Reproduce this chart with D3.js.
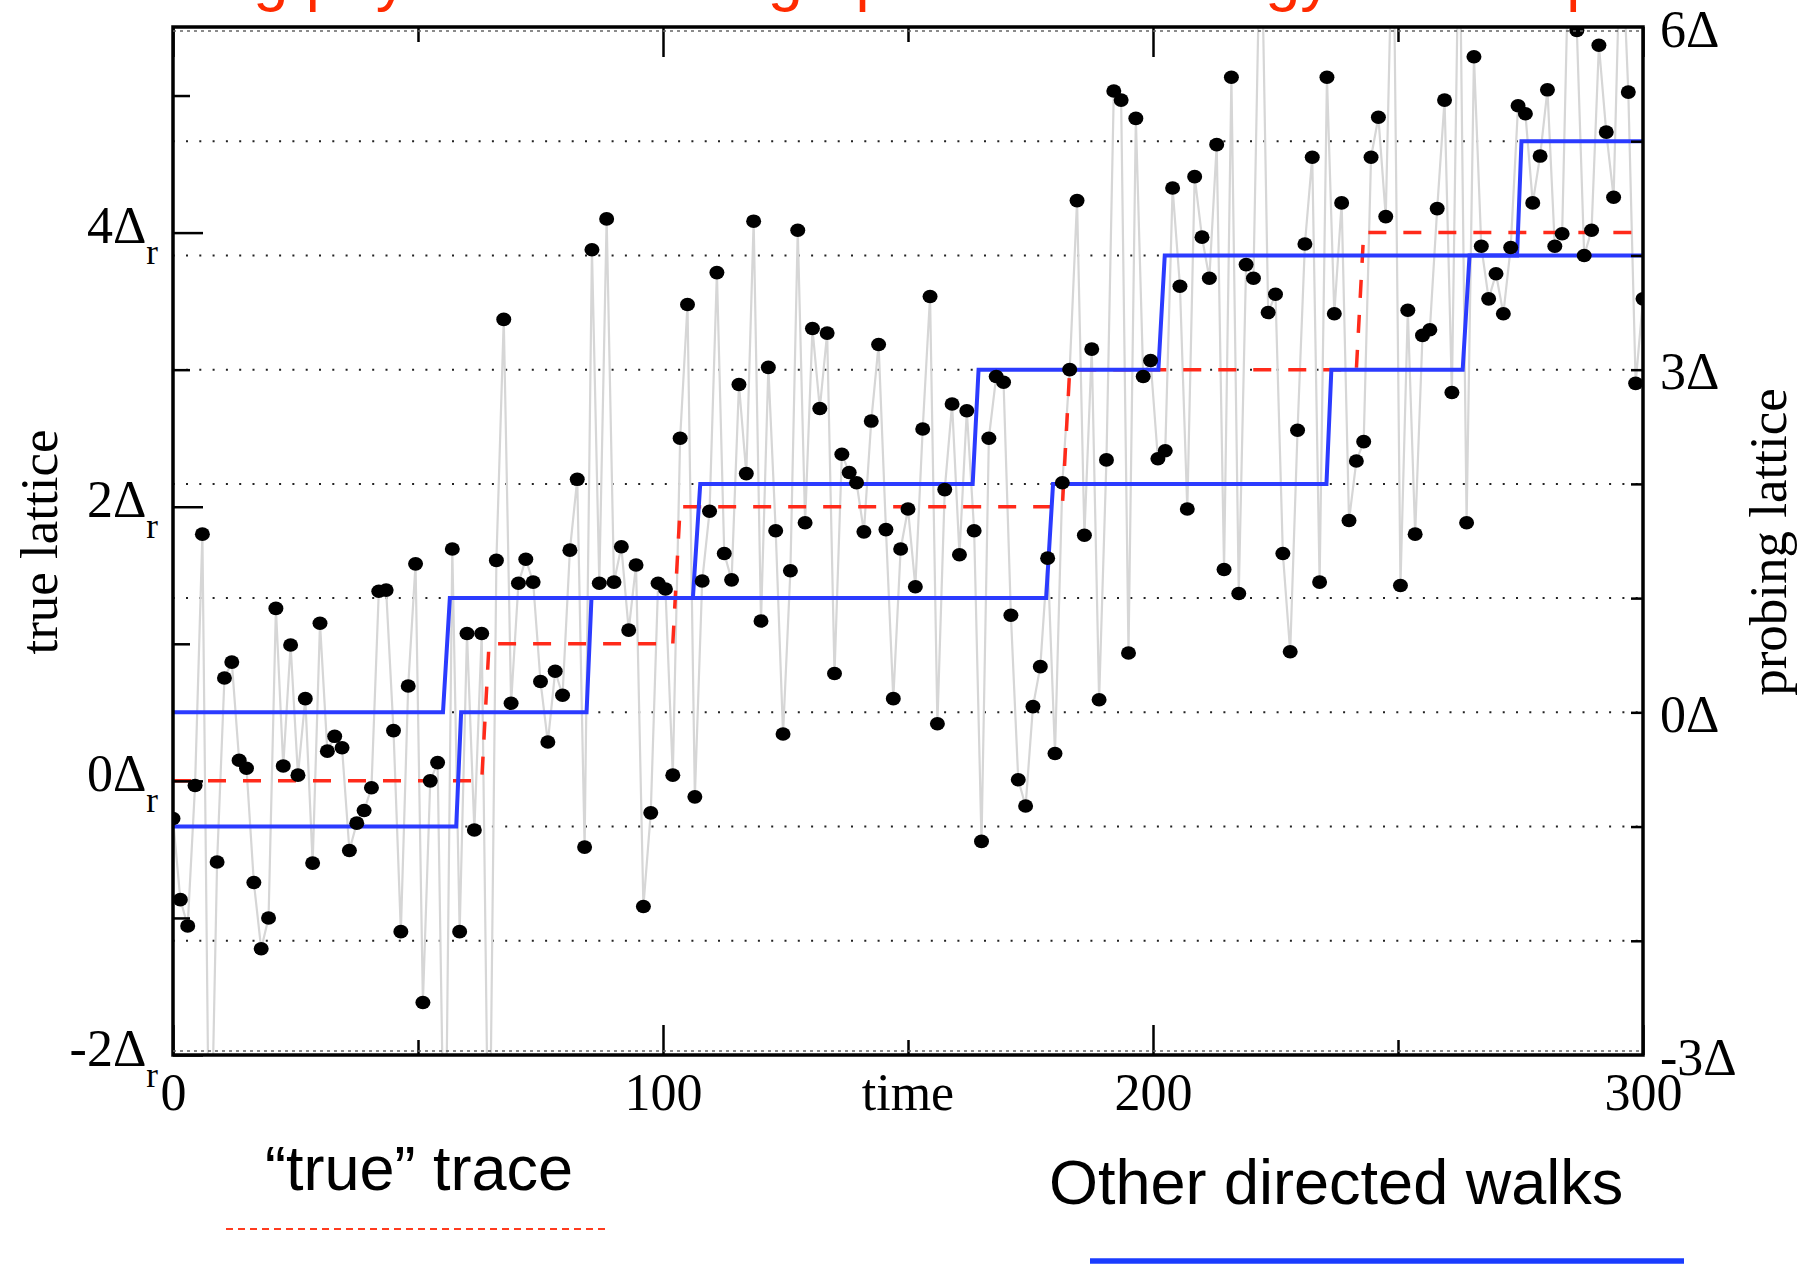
<!DOCTYPE html>
<html>
<head>
<meta charset="utf-8">
<script src="https://cdn.jsdelivr.net/npm/d3@7"></script>
<style>
  body { margin: 0; background: #fff; }
  svg { display: block; }
  .serif { font-family: "Liberation Serif", "Times New Roman", serif; }
  .sans  { font-family: "Liberation Sans", Arial, sans-serif; }
</style>
</head>
<body>
<div id="chart"></div>
<script>
// ---------- Data ----------
const timeStep = 1.5;   // one sample every 1.5 time units

// observed signal, in units of the probing lattice Δ
const observed = [
  -0.93, -1.64, -1.87, -0.64, 1.56, -4.5, -1.31, 0.30, 0.44, -0.42,
  -0.49, -1.49, -2.07, -1.80, 0.91, -0.47, 0.59, -0.55, 0.12, -1.32,
  0.78, -0.34, -0.21, -0.31, -1.21, -0.97, -0.86, -0.66, 1.06, 1.07,
  -0.16, -1.92, 0.23, 1.30, -2.54, -0.60, -0.44, -4.5, 1.43, -1.92,
  0.69, -1.03, 0.69, -4.5, 1.33, 3.44, 0.08, 1.13, 1.34, 1.14,
  0.27, -0.26, 0.36, 0.15, 1.42, 2.04, -1.18, 4.05, 1.13, 4.32,
  1.14, 1.45, 0.72, 1.29, -1.70, -0.88, 1.13, 1.08, -0.55, 2.40,
  3.57, -0.74, 1.15, 1.76, 3.85, 1.39, 1.16, 2.87, 2.09, 4.30,
  0.80, 3.02, 1.59, -0.19, 1.24, 4.22, 1.66, 3.36, 2.66, 3.32,
  0.34, 2.26, 2.10, 2.01, 1.58, 2.55, 3.22, 1.60, 0.12, 1.43,
  1.78, 1.10, 2.48, 3.64, -0.10, 1.95, 2.70, 1.38, 2.64, 1.59,
  -1.13, 2.40, 2.94, 2.89, 0.85, -0.59, -0.82, 0.05, 0.40, 1.35,
  -0.36, 2.01, 3.00, 4.48, 1.55, 3.18, 0.11, 2.21, 5.44, 5.36,
  0.52, 5.20, 2.94, 3.08, 2.22, 2.29, 4.59, 3.73, 1.78, 4.69,
  4.16, 3.80, 4.97, 1.25, 5.56, 1.04, 3.92, 3.80, 7.2, 3.50,
  3.66, 1.39, 0.53, 2.47, 4.10, 4.86, 1.14, 5.56, 3.49, 4.46,
  1.68, 2.20, 2.37, 4.86, 5.21, 4.34, 7.2, 1.11, 3.52, 1.56,
  3.30, 3.35, 4.41, 5.36, 2.80, 7.2, 1.66, 5.74, 4.08, 3.62,
  3.84, 3.49, 4.07, 5.31, 5.24, 4.46, 4.87, 5.45, 4.08, 4.19,
  7.0, 5.97, 4.00, 4.22, 5.84, 5.08, 4.51, 7.0, 5.43, 2.88,
  3.62
];

// "true" trace, [time, level in Δr]
const trueTrace = [
  [0, 0], [63, 0], [64.5, 1], [102, 1], [103.5, 2],
  [181.5, 2], [183, 3], [241.5, 3], [243, 4], [300, 4]
];

// other directed walks, [time, level in Δ]
const walkUpper = [
  [0, 0], [55.1, 0], [56.5, 1], [106.1, 1], [107.6, 2], [163.2, 2], [164.4, 3],
  [201.1, 3], [202.4, 4], [274.3, 4], [275.2, 5], [300, 5]
];
const walkLower = [
  [0, -1], [57.8, -1], [58.8, 0], [84.4, 0], [85.4, 1], [178.2, 1], [179.6, 2],
  [235.4, 2], [236.4, 3], [263.2, 3], [264.6, 4], [300, 4]
];

const xTicks      = [0, 100, 200, 300];
const xMinorTicks = [50, 150, 250];
const leftTicks   = [-2, 0, 2, 4];
const leftMinor   = [-1, 1, 3, 5];
const rightTicks  = [-3, 0, 3, 6];
const gridLevels  = [-2, -1, 0, 1, 2, 3, 4, 5];

const titleText = "Learning physics - climbing up the free energy landscape";

// ---------- Layout ----------
const width = 1809, height = 1266;
const plot = { left: 173, right: 1643, top: 27, bottom: 1055 };

const x  = d3.scaleLinear().domain([0, 300]).range([plot.left, plot.right]);
const yP = d3.scaleLinear().domain([-3, 6]).range([plot.bottom, plot.top]);     // probing lattice
const yR = d3.scaleLinear().domain([-2, 5.5]).range([plot.bottom, plot.top]);   // true lattice

const svg = d3.select("#chart").append("svg")
  .attr("width", width)
  .attr("height", height);

svg.append("defs").append("clipPath").attr("id", "plot-clip")
  .append("rect")
  .attr("x", plot.left).attr("y", plot.top)
  .attr("width", plot.right - plot.left)
  .attr("height", plot.bottom - plot.top);

// ---------- Title (mostly above the page edge) ----------
svg.append("text")
  .attr("class", "sans")
  .attr("x", 43)
  .attr("y", -1)
  .attr("font-size", 63)
  .attr("fill", "#ff2a00")
  .text(titleText);

// ---------- Grid ----------
svg.append("g")
  .selectAll("line")
  .data(gridLevels)
  .join("line")
  .attr("x1", plot.left).attr("x2", plot.right)
  .attr("y1", d => yP(d)).attr("y2", d => yP(d))
  .attr("stroke", "#222")
  .attr("stroke-width", 2)
  .attr("stroke-dasharray", "2,11.3")
  .attr("stroke-dashoffset", -13);

const plotArea = svg.append("g").attr("clip-path", "url(#plot-clip)");

// ---------- Observed signal ----------
const sampleLine = d3.line()
  .x((d, i) => x(i * timeStep))
  .y(d => yP(d));

plotArea.append("path")
  .datum(observed)
  .attr("d", sampleLine)
  .attr("fill", "none")
  .attr("stroke", "#d6d6d6")
  .attr("stroke-width", 2.2);

// ---------- True trace ----------
plotArea.append("path")
  .datum(trueTrace)
  .attr("d", d3.line().x(d => x(d[0])).y(d => yR(d[1])))
  .attr("fill", "none")
  .attr("stroke", "#ff2a1a")
  .attr("stroke-width", 3.5)
  .attr("stroke-dasharray", "18,17");

// ---------- Directed walks ----------
const walkLine = d3.line().x(d => x(d[0])).y(d => yP(d[1]));
plotArea.selectAll(".walk")
  .data([walkUpper, walkLower])
  .join("path")
  .attr("class", "walk")
  .attr("d", walkLine)
  .attr("fill", "none")
  .attr("stroke", "#2b3bff")
  .attr("stroke-width", 4);

// ---------- Dots ----------
plotArea.append("g")
  .selectAll("ellipse")
  .data(observed)
  .join("ellipse")
  .attr("cx", (d, i) => x(i * timeStep))
  .attr("cy", d => yP(d))
  .attr("rx", 7.5)
  .attr("ry", 6.8)
  .attr("fill", "#000");

// ---------- Axes ----------
function styleAxis(g) {
  g.select(".domain").remove();
  g.selectAll(".tick line").attr("stroke", "#000").attr("stroke-width", 2.5);
  g.attr("font-family", null).attr("font-size", null);
  g.selectAll(".tick text")
    .attr("class", "serif")
    .attr("font-size", 52)
    .attr("fill", "#000");
}

// bottom
svg.append("g")
  .attr("transform", `translate(0,${plot.bottom})`)
  .call(d3.axisBottom(x).tickValues(xTicks).tickSize(-30).tickPadding(18).tickFormat(d3.format("d")))
  .call(styleAxis);
svg.append("g")
  .attr("transform", `translate(0,${plot.bottom})`)
  .call(d3.axisBottom(x).tickValues(xMinorTicks).tickSize(-15).tickFormat(""))
  .call(styleAxis);

// top
svg.append("g")
  .attr("transform", `translate(0,${plot.top})`)
  .call(d3.axisTop(x).tickValues(xTicks).tickSize(-30).tickFormat(""))
  .call(styleAxis);
svg.append("g")
  .attr("transform", `translate(0,${plot.top})`)
  .call(d3.axisTop(x).tickValues(xMinorTicks).tickSize(-15).tickFormat(""))
  .call(styleAxis);

// left (true lattice)
const leftAxis = svg.append("g")
  .attr("transform", `translate(${plot.left},0)`)
  .call(d3.axisLeft(yR).tickValues(leftTicks).tickSize(-30).tickPadding(15).tickFormat(""))
  .call(styleAxis);
leftAxis.selectAll(".tick text")
  .attr("dy", 10)
  .each(function (d) {
    const t = d3.select(this);
    t.append("tspan").text(`${d}Δ`);
    t.append("tspan").attr("font-size", 35).attr("dy", 21).text("r");
  });
svg.append("g")
  .attr("transform", `translate(${plot.left},0)`)
  .call(d3.axisLeft(yR).tickValues(leftMinor).tickSize(-17).tickFormat(""))
  .call(styleAxis);

// right (probing lattice)
svg.append("g")
  .attr("transform", `translate(${plot.right},0)`)
  .call(d3.axisRight(yP).tickValues(gridLevels).tickSize(-12).tickFormat(""))
  .call(styleAxis);
svg.append("g")
  .attr("transform", `translate(${plot.right},0)`)
  .call(d3.axisRight(yP).tickValues(rightTicks).tickSize(0).tickPadding(17).tickFormat(d => `${d}Δ`))
  .call(styleAxis)
  .call(g => g.selectAll(".tick text").attr("dy", 19));

// frame
svg.append("rect")
  .attr("x", plot.left).attr("y", plot.top)
  .attr("width", plot.right - plot.left)
  .attr("height", plot.bottom - plot.top)
  .attr("fill", "none")
  .attr("stroke", "#000")
  .attr("stroke-width", 3.5);

svg.append("g")
  .selectAll("line")
  .data([plot.top + 4, plot.bottom - 4])
  .join("line")
  .attr("x1", plot.left).attr("x2", plot.right)
  .attr("y1", d => d).attr("y2", d => d)
  .attr("stroke", "#666")
  .attr("stroke-width", 1.5)
  .attr("stroke-dasharray", "3,4");

// ---------- Axis titles ----------
svg.append("text")
  .attr("class", "serif")
  .attr("x", x(150)).attr("y", 1110)
  .attr("text-anchor", "middle")
  .attr("font-size", 52)
  .text("time");

svg.append("text")
  .attr("class", "serif")
  .attr("transform", "translate(57,542) rotate(-90)")
  .attr("text-anchor", "middle")
  .attr("font-size", 53)
  .text("true lattice");

svg.append("text")
  .attr("class", "serif")
  .attr("transform", "translate(1786,542) rotate(-90)")
  .attr("text-anchor", "middle")
  .attr("font-size", 53)
  .text("probing lattice");

// ---------- Legend ----------
svg.append("text")
  .attr("class", "sans")
  .attr("x", 265).attr("y", 1190)
  .attr("font-size", 63)
  .text("“true” trace");

svg.append("line")
  .attr("x1", 226).attr("x2", 610)
  .attr("y1", 1229).attr("y2", 1229)
  .attr("stroke", "#ff3b1f")
  .attr("stroke-width", 2)
  .attr("stroke-dasharray", "7,5");

svg.append("text")
  .attr("class", "sans")
  .attr("x", 1049).attr("y", 1204)
  .attr("font-size", 63)
  .text("Other directed walks");

svg.append("line")
  .attr("x1", 1090).attr("x2", 1684)
  .attr("y1", 1261).attr("y2", 1261)
  .attr("stroke", "#1a3cff")
  .attr("stroke-width", 5.5);
</script>
</body>
</html>
